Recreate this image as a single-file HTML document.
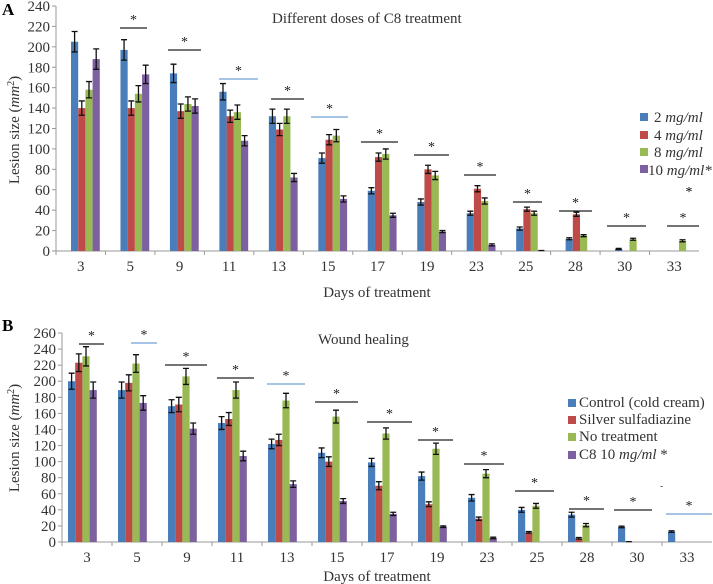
<!DOCTYPE html>
<html><head><meta charset="utf-8"><style>
body{margin:0;background:#fff;}
svg{display:block;font-family:"Liberation Serif",serif;}
</style></head><body>
<svg id="s" width="713" height="584"></svg>
<script>
const daysA=["3","5","9","11","13","15","17","19","23","25","28","30","33"];
const seriesA1=[205,197,174,156,132,91,59,48,37,22,12,2,0];
const seriesA2=[140,140,137,132,119,109,92,80,61,41,36,0,0];
const seriesA3=[158,154,144,136,132,113,95,74,49,37,15,11.5,10];
const seriesA4=[188,173,142,108,72,51,35,19,6,0.5,0,0,0];
const errA1=[10,10,9,8,7,5,3,3,2,1.5,1,0.5,0];
const errA2=[7,7,7,6,6,5,4,4,3,2,2,0,0];
const errA3=[8,8,7,7,7,6,5,4,3,2,1,1,1];
const errA4=[10,9,7,5,4,3,2,1,1,0,0,0,0];
const ticksA=[0,20,40,60,80,100,120,140,160,180,200,220,240];
const daysB=["3","5","9","11","13","15","17","19","23","25","28","30","33"];
const seriesB1=[200,189,169,148,122,111,99,82,55,40,34,18.7,13];
const seriesB2=[223,198,171,153,127,100,70,47,29,12,4.6,0.5,0];
const seriesB3=[231,222,206,189,176,156,135,116,85,45,21,0,0];
const seriesB4=[189,173,141,107,72,51,35,19,5,0,0,0,0];
const errB1=[10,10,8,8,6,6,5,5,4,3,3,1,1];
const errB2=[11,10,9,8,7,6,5,3,2,1,1,0,0];
const errB3=[12,11,10,10,9,8,7,7,5,3,2,0,0];
const errB4=[10,9,7,6,4,3,2,1,1,0,0,0,0];
const ticksB=[0,20,40,60,80,100,120,140,160,180,200,220,240,260];
const colors=["#4a7ebb","#be4b48","#98b954","#7d60a0"];
const NS="http://www.w3.org/2000/svg";
const svg=document.getElementById('s');
function el(t,a,txt,p){const e=document.createElementNS(NS,t);for(const k in a)e.setAttribute(k,a[k]);if(txt!=null)e.textContent=txt;(p||svg).appendChild(e);return e;}

function chart(cfg){
  const g=el('g',{});
  
  
  const x0=cfg.x0,x1=cfg.x1,y0=cfg.y0,ymax=cfg.ymax,yTop=cfg.yTop;
  const yS=v=>y0-(v/ymax)*(y0-yTop);
  const gw=(x1-x0)/cfg.days.length;
  const ax=el('line',{x1:x0,y1:yTop,x2:x0,y2:y0,stroke:'#999','stroke-width':1},null,g);
  
  const bx=el('line',{x1:x0,y1:y0,x2:x1,y2:y0,stroke:'#999','stroke-width':1},null,g);
  
  cfg.ticks.forEach(t=>{
    el('line',{x1:x0-4,y1:yS(t),x2:x0,y2:yS(t),stroke:'#999'},null,g);
    const tl=el('text',{x:x0-6,y:yS(t)+5,'text-anchor':'end','font-size':15,fill:'#333'},t,g);
    
  });
  cfg.days.forEach((d,i)=>{
    const gx=x0+i*gw;
    el('line',{x1:gx,y1:y0,x2:gx,y2:y0+4,stroke:'#999'},null,g);
    const tl=el('text',{x:gx+gw/2,y:y0+20,'text-anchor':'middle','font-size':15,fill:'#333'},d,g);
    
    cfg.series.forEach((s,k)=>{
      const bw=7.2,bxp=gx+cfg.off+k*bw,v=s[i];
      if(v>0){
        const r=el('rect',{x:bxp,y:yS(v),width:bw,height:y0-yS(v),fill:colors[k]},null,g);
        
        const e=cfg.err[k][i];
        const cx=bxp+bw/2;
        el('path',{d:`M${cx},${yS(v+e)}V${yS(Math.max(v-e,0))}M${cx-3},${yS(v+e)}H${cx+3}M${cx-3},${yS(Math.max(v-e,0))}H${cx+3}`,stroke:'#111','stroke-width':1.3,fill:'none'},null,g);
      }
    });
  });
  cfg.sig.forEach(s=>{
    const l=el('line',{x1:s[0],x2:s[1],y1:s[2],y2:s[2],stroke:s[3]?'#6fa0d8':'#222','stroke-width':1.3},null,g);
    
    el('text',{x:(s[0]+s[1])/2,y:s[2]-4,'text-anchor':'middle','font-size':14,fill:'#222'},'*',g);
  });
  return g;
}
chart({name:'chart-a',x0:56,x1:699,y0:251,yTop:6,ymax:240,days:daysA,ticks:ticksA,off:15,
  series:[seriesA1,seriesA2,seriesA3,seriesA4],err:[errA1,errA2,errA3,errA4],sn:['2mg','4mg','8mg','10mg'],
  sig:[[120,147,28],[168,201,50],[219,258,79,1],[271,304,99],[311,348,117,1],[361,398,142],[414,449,155],[464,496,175],[513,542,202],[559,592,211],[607,646,226],[667,699,226]]});
chart({name:'chart-b',x0:62,x1:712,y0:542,yTop:333,ymax:260,days:daysB,ticks:ticksB,off:6,
  series:[seriesB1,seriesB2,seriesB3,seriesB4],err:[errB1,errB2,errB3,errB4],sn:['control','silver','none','c8'],
  sig:[[79,104,344],[131,157,343,1],[165,207,365],[217,254,378],[267,305,384,1],[315,358,402],[367,412,422],[418,453,440],[464,504,464],[515,554,491],[569,604,509],[614,652,510],[666,712,514,1]]});
</script>
<svg style="position:absolute;left:0;top:0" width="713" height="584" font-family="Liberation Serif, serif">
<text x="2" y="15" font-size="17" font-weight="bold">A</text>
<text x="2" y="331" font-size="17" font-weight="bold">B</text>
<text x="272" y="23" font-size="15" fill="#333">Different doses of C8 treatment</text>
<text x="318" y="344" font-size="15" fill="#333">Wound healing</text>
<text x="377" y="297" font-size="15" fill="#333" text-anchor="middle">Days of treatment</text>
<text x="377" y="581" font-size="15" fill="#333" text-anchor="middle">Days of treatment</text>
<text transform="translate(19,130) rotate(-90)" font-size="15" fill="#333" text-anchor="middle">Lesion size (<tspan font-style="italic">mm</tspan><tspan font-size="10" dy="-5">2</tspan><tspan dy="5">)</tspan></text>
<text transform="translate(19,438) rotate(-90)" font-size="15" fill="#333" text-anchor="middle">Lesion size (<tspan font-style="italic">mm</tspan><tspan font-size="10" dy="-5">2</tspan><tspan dy="5">)</tspan></text>
<text x="689" y="196" font-size="14" text-anchor="middle">*</text>
<text x="660" y="489" font-size="10" fill="#555">-</text>
<g font-size="15" fill="#333">
<rect x="640" y="113" width="8" height="8" fill="#4a7ebb"/><text x="654" y="122">2 <tspan font-style="italic">mg/ml</tspan></text>
<rect x="640" y="131" width="8" height="8" fill="#be4b48"/><text x="654" y="140">4 <tspan font-style="italic">mg/ml</tspan></text>
<rect x="640" y="148" width="8" height="8" fill="#98b954"/><text x="654" y="157">8 <tspan font-style="italic">mg/ml</tspan></text>
<rect x="640" y="165" width="8" height="8" fill="#7d60a0"/><text x="648" y="175">10 <tspan font-style="italic">mg/ml*</tspan></text>
</g>
<g font-size="15" fill="#333">
<rect x="568" y="399" width="8" height="8" fill="#4a7ebb"/><text x="579" y="407">Control (cold cream)</text>
<rect x="568" y="416" width="8" height="8" fill="#be4b48"/><text x="579" y="424">Silver sulfadiazine</text>
<rect x="568" y="433" width="8" height="8" fill="#98b954"/><text x="579" y="441">No treatment</text>
<rect x="568" y="451" width="8" height="8" fill="#7d60a0"/><text x="579" y="459">C8 10 <tspan font-style="italic">mg/ml</tspan> *</text>
</g>
</svg>
</body></html>
